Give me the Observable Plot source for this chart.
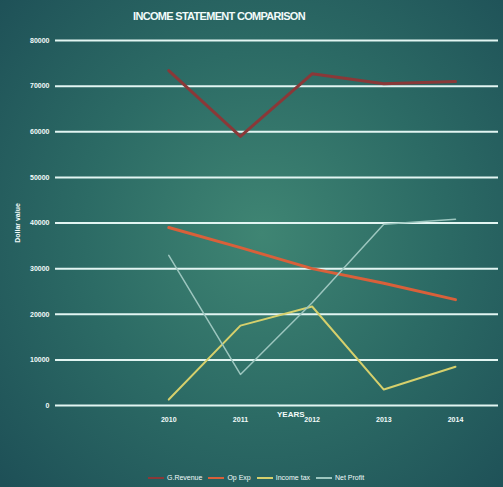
<!DOCTYPE html>
<html>
<head>
<meta charset="utf-8">
<script src="https://cdn.jsdelivr.net/npm/d3@7"></script>
<script src="https://cdn.jsdelivr.net/npm/@observablehq/plot@0.6"></script>
<style>
  html, body { margin: 0; padding: 0; }
  #wrap {
    position: relative; width: 503px; height: 487px; overflow: hidden;
    background: radial-gradient(ellipse 70% 75% at 52% 48%, #3f8573 0%, #2c6b65 50%, #1e5057 100%);
    font-family: "Liberation Sans Narrow", "Liberation Sans", Arial, sans-serif;
    color: #f2fbfa;
  }
  #title {
    position: absolute; top: 10px; left: 0; width: 438px; text-align: center;
    font-size: 11px; font-weight: bold; letter-spacing: -0.7px;
  }
  #chart { position: absolute; top: 0; left: 0; }
  #xlabel { position: absolute; top: 410px; left: 277px; font-size: 8px; font-weight: bold; }
  #legend {
    position: absolute; top: 474px; left: 148px; display: flex; gap: 6px; align-items: center;
    font-size: 7px;
  }
  #legend .item { display: flex; align-items: center; gap: 3px; }
  #legend .sw { width: 16px; height: 2px; display: inline-block; }
</style>
</head>
<body>
<div id="wrap">
  <div id="title">INCOME STATEMENT COMPARISON</div>
  <div id="chart"></div>
  <div id="xlabel">YEARS</div>
  <div id="legend"></div>
</div>
<script>
const years = [2010, 2011, 2012, 2013, 2014];
const seriesNames = ["G.Revenue", "Op Exp", "Income tax", "Net Profit"];
const gRevenue  = [73400, 59000, 72700, 70500, 71000];
const opExp     = [39000, 34600, 30000, 26800, 23200];
const incomeTax = [1300, 17500, 21700, 3500, 8500];
const netProfit = [32900, 6800, 22500, 39700, 40800];
const yTicks = [0, 10000, 20000, 30000, 40000, 50000, 60000, 70000, 80000];

const colors = ["#8a3838", "#d9603a", "#d6d06c", "#9cc6bf"];
const widths = [3, 3, 2, 1.5];
const values = [gRevenue, opExp, incomeTax, netProfit];

const data = [];
seriesNames.forEach((name, i) => {
  years.forEach((yr, j) => data.push({series: name, year: yr, value: values[i][j]}));
});

const chart = Plot.plot({
  width: 503,
  height: 440,
  marginTop: 40,
  marginBottom: 35,
  marginLeft: 55,
  marginRight: 5,
  style: {background: "transparent", color: "#f2fbfa", fontFamily: "Liberation Sans Narrow, Liberation Sans, sans-serif"},
  x: {domain: [2008.42, 2014.6], ticks: years, tickFormat: d => String(d)},
  y: {domain: [0, 80000], ticks: yTicks},
  marks: [
    Plot.ruleY(yTicks, {stroke: "#e2f5f2", strokeWidth: 2}),
    Plot.axisY({ticks: yTicks, tickSize: 0, tickPadding: 6, fontSize: 7, fontWeight: "bold",
      tickFormat: d => String(d), label: "Dollar value", labelAnchor: "center", labelOffset: 40, labelArrow: "none"}),
    Plot.axisX({ticks: years, tickSize: 0, tickPadding: 12, fontSize: 7, fontWeight: "bold",
      tickFormat: d => String(d), label: null}),
    ...seriesNames.map((name, i) =>
      Plot.line(data.filter(d => d.series === name), {
        x: "year", y: "value", stroke: colors[i], strokeWidth: widths[i], strokeLinejoin: "round"
      })
    )
  ]
});
document.getElementById("chart").appendChild(chart);

const legend = document.getElementById("legend");
seriesNames.forEach((name, i) => {
  const it = document.createElement("div");
  it.className = "item";
  const sw = document.createElement("span");
  sw.className = "sw";
  sw.style.background = colors[i];
  const t = document.createElement("span");
  t.textContent = name;
  it.appendChild(sw); it.appendChild(t);
  legend.appendChild(it);
});
</script>
</body>
</html>
